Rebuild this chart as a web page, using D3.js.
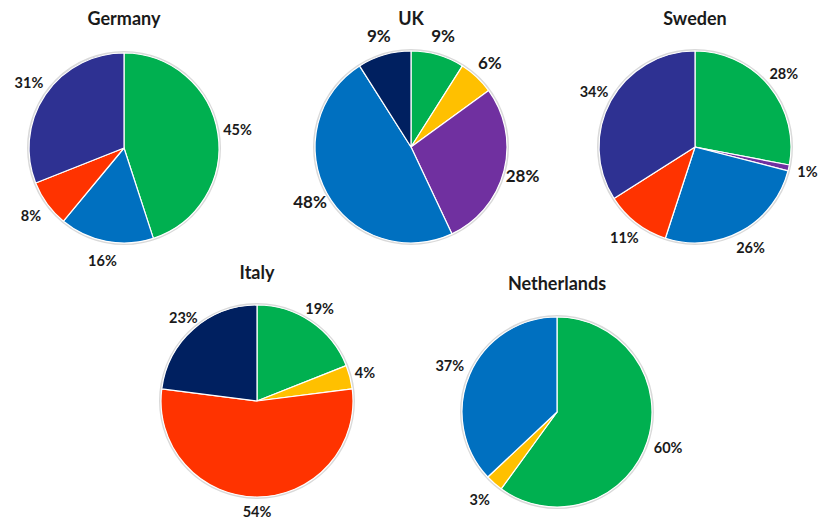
<!DOCTYPE html>
<html>
<head>
<meta charset="utf-8">
<script src="https://cdn.jsdelivr.net/npm/d3@7"></script>
<style>
  html, body { margin: 0; padding: 0; background: #ffffff; }
  svg { display: block; }
  text { font-family: "Century Gothic", "URW Gothic", "Lato", "DejaVu Sans", sans-serif; font-weight: bold; fill: #1a1a1a; }
</style>
</head>
<body>
<svg id="chart" width="821" height="521"></svg>
<script>
// ---------- DATA ----------
const countries = ["Germany", "UK", "Sweden", "Italy", "Netherlands"];
const categories = ["Green", "Yellow", "Purple", "Blue", "Red", "Navy", "Indigo"];

// slices in clockwise order from 12 o'clock
const germanyCats   = ["Green", "Blue", "Red", "Indigo"];
const germanyValues = [45, 16, 8, 31];

const ukCats   = ["Green", "Yellow", "Purple", "Blue", "Navy"];
const ukValues = [9, 6, 28, 48, 9];

const swedenCats   = ["Green", "Purple", "Blue", "Red", "Indigo"];
const swedenValues = [28, 1, 26, 11, 34];

const italyCats   = ["Green", "Yellow", "Red", "Navy"];
const italyValues = [19, 4, 54, 23];

const netherlandsCats   = ["Green", "Yellow", "Blue"];
const netherlandsValues = [60, 3, 37];

// ---------- STYLE / LAYOUT ----------
const palette = ["#00B050", "#FFC000", "#7030A0", "#0070C0", "#FF3300", "#002060", "#2E3192"];
const color = d3.scaleOrdinal().domain(categories).range(palette);

const layout = [
  { cx: 124, cy: 148, r: 95, titleY: 19,  labelSize: 14.5, labelK: 1.21 },
  { cx: 411, cy: 147, r: 96, titleY: 19,  labelSize: 17,   labelK: 1.20 },
  { cx: 695, cy: 147, r: 96, titleY: 19,  labelSize: 14.5, labelK: 1.20 },
  { cx: 257, cy: 401, r: 96, titleY: 273, labelSize: 14.5, labelK: 1.16 },
  { cx: 557, cy: 412, r: 95, titleY: 284, labelSize: 14.5, labelK: 1.23 }
];

const datasets = [
  { cats: germanyCats, values: germanyValues },
  { cats: ukCats, values: ukValues },
  { cats: swedenCats, values: swedenValues },
  { cats: italyCats, values: italyValues },
  { cats: netherlandsCats, values: netherlandsValues }
];

const svg = d3.select("#chart");
const pie = d3.pie().sort(null).value(d => d.value);

countries.forEach((name, i) => {
  const L = layout[i];
  const rows = datasets[i].cats.map((c, j) => ({ cat: c, value: datasets[i].values[j] }));
  const arcs = pie(rows);
  const arc = d3.arc().innerRadius(0).outerRadius(L.r);
  const labelArc = d3.arc().innerRadius(L.r * L.labelK).outerRadius(L.r * L.labelK);

  const g = svg.append("g").attr("transform", `translate(${L.cx},${L.cy})`);

  // subtle outer ring
  g.append("circle")
    .attr("r", L.r + 1)
    .attr("fill", "none")
    .attr("stroke", "#d9d9d9")
    .attr("stroke-width", 2);

  g.selectAll("path.slice")
    .data(arcs)
    .join("path")
    .attr("class", "slice")
    .attr("d", arc)
    .attr("fill", d => color(d.data.cat))
    .attr("stroke", "#ffffff")
    .attr("stroke-width", 1.2)
    .attr("stroke-linejoin", "round");

  g.selectAll("text.lbl")
    .data(arcs)
    .join("text")
    .attr("class", "lbl")
    .attr("transform", d => `translate(${labelArc.centroid(d)})`)
    .attr("text-anchor", "middle")
    .attr("dy", "0.35em")
    .style("font-size", L.labelSize + "px")
    .text(d => d.data.value + "%");

  svg.append("text")
    .attr("x", L.cx)
    .attr("y", L.titleY)
    .attr("text-anchor", "middle")
    .attr("dy", "0.35em")
    .style("font-size", "18px")
    .text(name);
});
</script>
</body>
</html>
